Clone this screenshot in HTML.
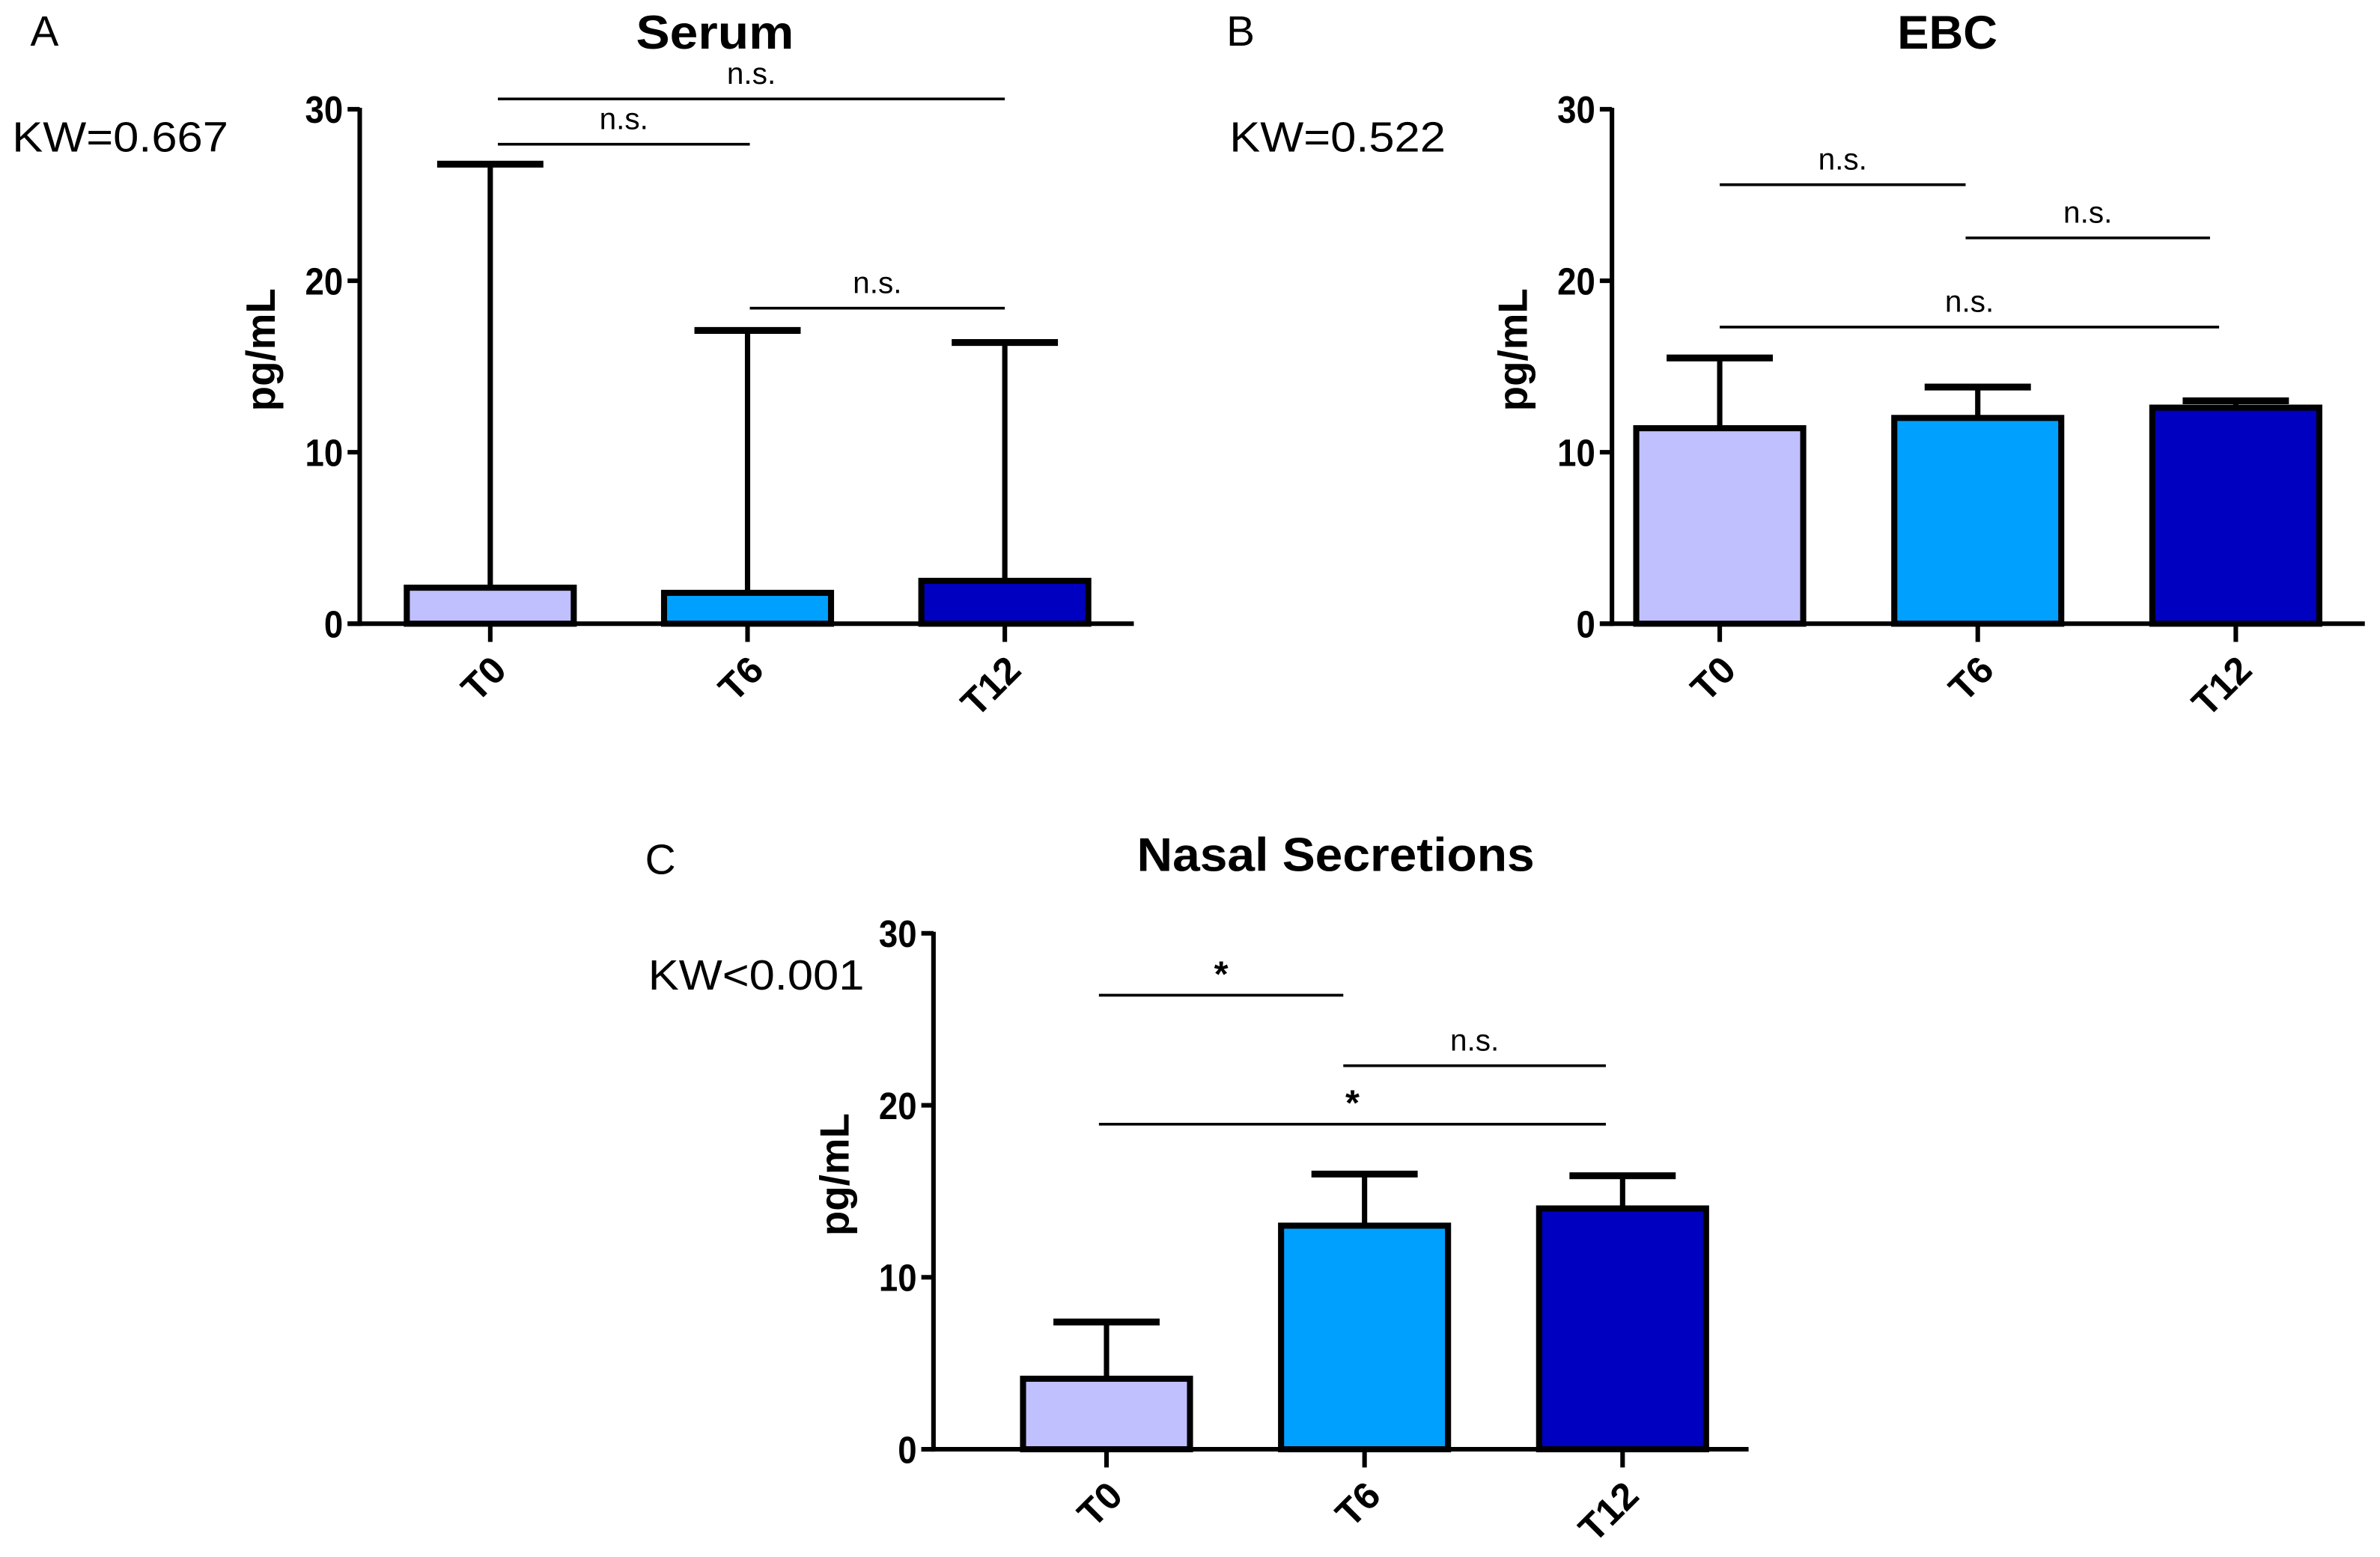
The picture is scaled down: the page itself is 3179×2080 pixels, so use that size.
<!DOCTYPE html>
<html><head><meta charset="utf-8"><style>
html,body{margin:0;padding:0;background:#fff;}
svg{display:block;}
text{font-family:"Liberation Sans",sans-serif;}
</style></head><body>
<svg id="fig" width="3179" height="2080" viewBox="0 0 1568 1026" preserveAspectRatio="none" xmlns="http://www.w3.org/2000/svg"></svg>
<script>
const categories = ["T0","T6","T12"];
const colors = ["#c0c0ff","#00a0ff","#0000c0"];
const yTicks = [0,10,20,30];
const serumMeans = [2.1,1.8,2.5];
const serumErr = [26.8,17.1,16.4];
const ebcMeans = [11.4,12.0,12.6];
const ebcErr = [15.5,13.8,13.0];
const nasalMeans = [4.1,13.0,14.0];
const nasalErr = [7.4,16.0,15.9];
// comparisons: [fromIdx, toIdx, level, label]
const serumSig = [[0,2,30.6,"n.s."],[0,1,27.96,"n.s."],[1,2,18.4,"n.s."]];
const ebcSig = [[0,1,25.6,"n.s."],[1,2,22.5,"n.s."],[0,2,17.3,"n.s."]];
const nasalSig = [[0,1,26.4,"*"],[1,2,22.3,"n.s."],[0,2,18.9,"*"]];

const NS="http://www.w3.org/2000/svg";
const svg=document.getElementById('fig');
function mk(tag,attrs,parent){const e=document.createElementNS(NS,tag);for(const k in attrs)e.setAttribute(k,attrs[k]);(parent||svg).appendChild(e);return e;}

const panels=[
 {key:"serum",title:"Serum",titleW:104,letter:"A",kw:"KW=0.667",ax:237,y0:411,y30:72,xEnd:747,c0:323,step:169.5,tx:471,ty:32,lx:20,ly:30,kx:8,ky:100,means:serumMeans,err:serumErr,sig:serumSig,sigL:[328,494,662]},
 {key:"ebc",title:"EBC",titleW:66,letter:"B",kw:"KW=0.522",ax:1062,y0:411,y30:72,xEnd:1558,c0:1133,step:170,tx:1283,ty:32,lx:808,ly:30,kx:810,ky:100,means:ebcMeans,err:ebcErr,sig:ebcSig,sigL:[1133,1295,1462]},
 {key:"nasal",title:"Nasal Secretions",titleW:262,letter:"C",kw:"KW<0.001",ax:615,y0:955,y30:615,xEnd:1152,c0:729,step:170,tx:880,ty:574,lx:425,ly:576,kx:427,ky:652,means:nasalMeans,err:nasalErr,sig:nasalSig,sigL:[724,885,1058]}
];

panels.forEach(p=>{
 const g=mk('g',{});
 
 
 const y=v=>p.y0-(p.y0-p.y30)*v/30;
 const x=i=>p.c0+i*p.step;
 let t=mk('text',{x:p.lx,y:p.ly,'font-size':28},g);t.textContent=p.letter;
 
 t=mk('text',{x:p.tx,y:p.ty,'font-size':31,'font-weight':'bold','text-anchor':'middle',textLength:p.titleW,lengthAdjust:'spacingAndGlyphs'},g);t.textContent=p.title;
 
 t=mk('text',{x:p.kx,y:p.ky,'font-size':28,textLength:p.kw.length*17.8,lengthAdjust:'spacingAndGlyphs'},g);t.textContent=p.kw;
 
 const ymid=(p.y0+p.y30)/2;
 t=mk('text',{x:0,y:0,'font-size':27,'font-weight':'bold','text-anchor':'middle',transform:`translate(${p.ax-56},${ymid-11}) rotate(-90)`},g);t.textContent="pg/mL";
 
 p.means.forEach((m,i)=>{
  const cx=x(i);
  let l=mk('line',{x1:cx,x2:cx,y1:y(m),y2:y(p.err[i]),stroke:'#000','stroke-width':3.5},g);
  
  l=mk('line',{x1:cx-35,x2:cx+35,y1:y(p.err[i]),y2:y(p.err[i]),stroke:'#000','stroke-width':4.5},g);
  
  const r=mk('rect',{x:cx-55,y:y(m),width:110,height:p.y0-y(m),fill:colors[i],stroke:'#000','stroke-width':4},g);
  
 });
 let a=mk('line',{x1:p.ax,x2:p.ax,y1:p.y30-1,y2:p.y0+1.5,stroke:'#000','stroke-width':3},g);
 
 a=mk('line',{x1:p.ax-8,x2:p.xEnd,y1:p.y0,y2:p.y0,stroke:'#000','stroke-width':3},g);
 
 yTicks.forEach(v=>{
  let l=mk('line',{x1:p.ax-8,x2:p.ax,y1:y(v),y2:y(v),stroke:'#000','stroke-width':3},g);
  
  let tt=mk('text',{x:p.ax-11,y:y(v)+9,'font-size':25,'font-weight':'bold','text-anchor':'end',textLength:String(v).length*12.5,lengthAdjust:'spacingAndGlyphs'},g);tt.textContent=v;
  
 });
 categories.forEach((c,i)=>{
  const cx=x(i);
  let l=mk('line',{x1:cx,x2:cx,y1:p.y0,y2:p.y0+12,stroke:'#000','stroke-width':3},g);
  
  let tt=mk('text',{x:0,y:0,'font-size':25,'font-weight':'bold','text-anchor':'end',transform:`translate(${cx+12},${p.y0+32}) rotate(-45)`},g);tt.textContent=c;
  
 });
 p.sig.forEach(s=>{
  const x1=p.sigL[s[0]], x2=p.sigL[s[1]]+(s[1]===2&&s[0]===1&&p.key==='ebc'?-6:0);
  const yy=y(s[2]);
  let l=mk('line',{x1:x1,x2:x2,y1:yy,y2:yy,stroke:'#000','stroke-width':1.8},g);
  
  let tt=mk('text',{x:(x1+x2)/2,y:yy-(s[3]==='*'?6:10),'font-size':s[3]==='*'?24:20,'text-anchor':'middle','font-weight':s[3]==='*'?'bold':'normal'},g);tt.textContent=s[3];
  
 });
});
</script>
</body></html>
